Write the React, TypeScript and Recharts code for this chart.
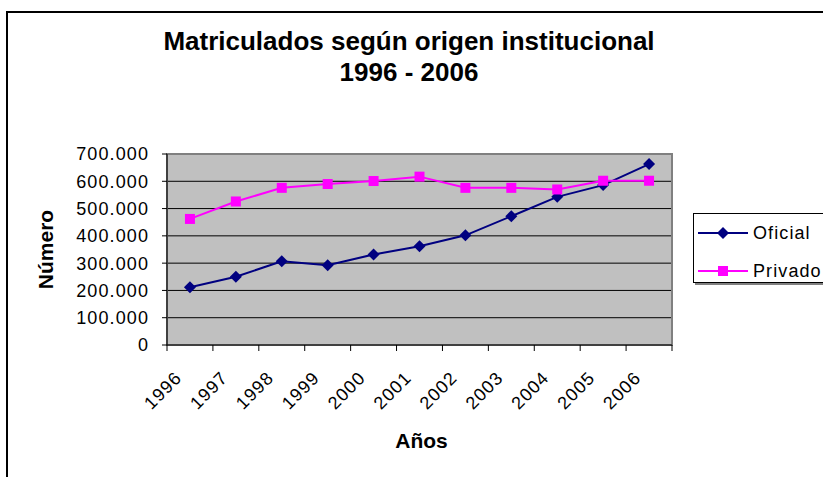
import React from 'react'
import {
    LineChart,
    Line,
    XAxis,
    YAxis,
    CartesianGrid,
    ReferenceArea,
    Legend,
    Label
} from 'recharts'

const years = ['1996', '1997', '1998', '1999', '2000', '2001', '2002', '2003', '2004', '2005', '2006']
const oficial = [212000, 250000, 307000, 292000, 332000, 362000, 402000, 472000, 543000, 586000, 663000]
const privado = [462000, 526000, 576000, 590000, 601000, 617000, 576000, 576000, 570000, 602000, 602000]
const yTicks = [0, 100000, 200000, 300000, 400000, 500000, 600000, 700000]

const data = years.map((year, i) => ({ year, Oficial: oficial[i], Privado: privado[i] }))

const FONT = '"Liberation Sans", Arial, sans-serif'
const NAVY = '#000080'
const MAGENTA = '#FF00FF'

const fmt = (v: number) => String(v).replace(/\B(?=(\d{3})+(?!\d))/g, '.')

function Diamond({ cx, cy }: any) {
    if (cx == null || cy == null) return null
    return <path d={`M${cx},${cy - 6} L${cx + 6},${cy} L${cx},${cy + 6} L${cx - 6},${cy} Z`} fill={NAVY} />
}

function Square({ cx, cy }: any) {
    if (cx == null || cy == null) return null
    return <rect x={cx - 5} y={cy - 5} width={10} height={10} fill={MAGENTA} />
}

function YearTick({ x, y, payload, index }: any) {
    const off = payload.offset || 0
    const tx = x - 7
    const ty = y + 28
    return (
        <g>
            <line x1={x - off} y1={y - 6} x2={x - off} y2={y} stroke="#000" />
            {index === years.length - 1 && (
                <line x1={x + off} y1={y - 6} x2={x + off} y2={y} stroke="#000" />
            )}
            <text
                x={tx}
                y={ty}
                transform={`rotate(-45 ${tx} ${ty})`}
                textAnchor="end"
                fontSize={18}
                letterSpacing={1.1}
                fill="#000"
                fontFamily={FONT}
            >
                {payload.value}
            </text>
        </g>
    )
}

function LegendBox({ payload }: any) {
    return (
        <div
            style={{
                width: 140,
                height: 68,
                border: '1px solid #000',
                background: '#fff',
                boxShadow: '2px 2px 0 #808080',
                fontFamily: FONT,
                fontSize: 18,
                letterSpacing: 1.1,
                position: 'relative'
            }}
        >
            {(payload || []).map((p: any, i: number) => {
                const isOficial = p.dataKey === 'Oficial'
                const color = isOficial ? NAVY : MAGENTA
                const cy = i === 0 ? 19 : 57
                return (
                    <div key={p.dataKey} style={{ position: 'absolute', left: 0, top: cy - 12, height: 24, width: 140 }}>
                        <svg width={56} height={24} style={{ position: 'absolute', left: 0, top: 0 }}>
                            <line x1={4} y1={12} x2={54} y2={12} stroke={color} strokeWidth={2} />
                            {isOficial ? <Diamond cx={29} cy={12} /> : <Square cx={29} cy={12} />}
                        </svg>
                        <span style={{ position: 'absolute', left: 59, top: 1, lineHeight: '22px', color: '#000' }}>{p.value}</span>
                    </div>
                )
            })}
        </div>
    )
}

export default function App() {
    return (
        <div style={{ position: 'absolute', left: 0, top: 0, width: 823, height: 477, overflow: 'hidden', background: '#fff', fontFamily: FONT }}>
            <div style={{ position: 'absolute', left: 6, top: 11, width: 900, height: 600, border: '2px solid #000' }} />
            <div
                style={{
                    position: 'absolute',
                    left: 0,
                    top: 26,
                    width: 818,
                    textAlign: 'center',
                    fontWeight: 'bold',
                    fontSize: 26,
                    lineHeight: '31px',
                    color: '#000'
                }}
            >
                Matriculados según origen institucional
                <br />
                1996 - 2006
            </div>
            <LineChart width={823} height={477} data={data} margin={{ top: 154, right: 151, left: 0, bottom: 24 }}>
                <CartesianGrid vertical={false} stroke="#000" fill="#C0C0C0" fillOpacity={1} />
                <ReferenceArea y1={0} y2={700000} fill="none" stroke="#808080" strokeWidth={2} />
                <XAxis
                    dataKey="year"
                    scale="band"
                    height={108}
                    axisLine={{ stroke: '#000' }}
                    tickLine={false}
                    tickSize={6}
                    tickMargin={0}
                    interval={0}
                    tick={<YearTick />}
                >
                    <Label value="Años" position="insideBottom" dx={2} fontSize={21} fontWeight="bold" fill="#000" fontFamily={FONT} />
                </XAxis>
                <YAxis
                    width={167}
                    domain={[0, 700000]}
                    ticks={yTicks}
                    interval={0}
                    tickFormatter={fmt}
                    axisLine={{ stroke: '#000' }}
                    tickLine={{ stroke: '#000' }}
                    tickSize={5}
                    tickMargin={13}
                    tick={{ fill: '#000', fontSize: 18, letterSpacing: 1.1, fontFamily: FONT }}
                >
                    <Label value="Número" angle={-90} position="center" dx={-38} fontSize={21} fontWeight="bold" fill="#000" fontFamily={FONT} />
                </YAxis>
                <Legend
                    layout="horizontal"
                    verticalAlign="middle"
                    align="center"
                    content={<LegendBox />}
                    wrapperStyle={{ left: 693, top: 213, width: 140, height: 70 }}
                />
                <Line
                    type="linear"
                    dataKey="Oficial"
                    stroke={NAVY}
                    strokeWidth={2}
                    dot={<Diamond />}
                    activeDot={false}
                    isAnimationActive={false}
                />
                <Line
                    type="linear"
                    dataKey="Privado"
                    stroke={MAGENTA}
                    strokeWidth={2}
                    dot={<Square />}
                    activeDot={false}
                    isAnimationActive={false}
                />
            </LineChart>
        </div>
    )
}
